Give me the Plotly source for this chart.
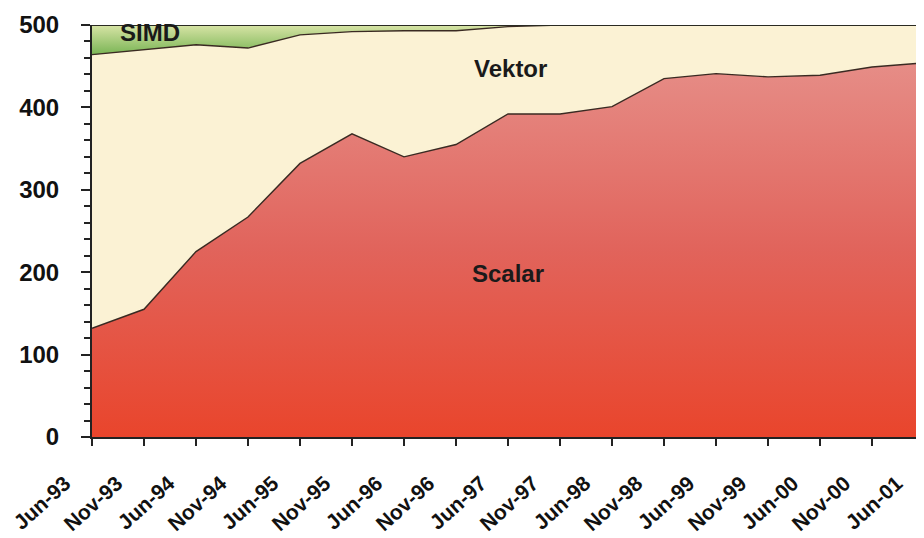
import plotly.graph_objects as go

categories = ["Jun-93", "Nov-93", "Jun-94", "Nov-94", "Jun-95", "Nov-95", "Jun-96", "Nov-96",
              "Jun-97", "Nov-97", "Jun-98", "Nov-98", "Jun-99", "Nov-99", "Jun-00", "Nov-00", "Jun-01"]
scalar = [132, 155, 225, 267, 332, 368, 340, 355, 392, 392, 401, 435, 441, 437, 439, 449, 454]
vektor = [332, 315, 251, 205, 156, 124, 153, 138, 106, 108, 99, 65, 59, 63, 61, 51, 46]
simd = [36, 30, 24, 28, 12, 8, 7, 7, 2, 0, 0, 0, 0, 0, 0, 0, 0]
y_ticks = [0, 100, 200, 300, 400, 500]

FONT = "Liberation Sans, Arial, sans-serif"
LINE = dict(color="#3a2a22", width=1.4)

fig = go.Figure()
fig.add_trace(go.Scatter(
    x=categories, y=scalar, name="Scalar", stackgroup="a", mode="lines", line=LINE,
    fillgradient=dict(type="vertical", start=0, stop=460,
                      colorscale=[[0, "#e9452c"], [0.5, "#e1645c"], [1, "#e68e88"]]),
))
fig.add_trace(go.Scatter(
    x=categories, y=vektor, name="Vektor", stackgroup="a", mode="lines", line=LINE,
    fillcolor="#fbf2d4",
))
fig.add_trace(go.Scatter(
    x=categories, y=simd, name="SIMD", stackgroup="a", mode="lines",
    line=dict(color="#2a2a22", width=1.8),
    fillgradient=dict(type="vertical", start=462, stop=500,
                      colorscale=[[0, "#74b250"], [1, "#d8e4a6"]]),
))

fig.add_annotation(x=1.12, y=491, text="SIMD", showarrow=False,
                   font=dict(family=FONT, size=24, color="#1a1a1a", weight="bold"))
fig.add_annotation(x=8.05, y=447, text="Vektor", showarrow=False,
                   font=dict(family=FONT, size=24, color="#1a1a1a", weight="bold"))
fig.add_annotation(x=8.0, y=198, text="Scalar", showarrow=False,
                   font=dict(family=FONT, size=24, color="#1a1a1a", weight="bold"))

# page body has an 8px margin, so the figure is sized/offset to land on the 924x538 view
fig.update_layout(
    width=916, height=530,
    margin=dict(l=84, r=0, t=17, b=101),
    paper_bgcolor="white", plot_bgcolor="white",
    showlegend=False,
    font=dict(family=FONT, color="#111111"),
)
fig.update_xaxes(
    type="category", range=[0, len(categories) - 1], automargin=False,
    showgrid=False, zeroline=False,
    showline=True, linecolor="#222222", linewidth=2,
    ticks="outside", ticklen=7, tickwidth=2, tickcolor="#222222",
    tickangle=-42, ticklabelshift=-27, ticklabelstandoff=17,
    tickfont=dict(family=FONT, size=21, color="#111111", weight="bold"),
)
fig.update_yaxes(
    range=[0, 500], tickvals=y_ticks, automargin=False,
    showgrid=False, zeroline=False,
    showline=True, linecolor="#222222", linewidth=2,
    ticks="outside", ticklen=9, tickwidth=2, tickcolor="#222222",
    minor=dict(dtick=20, ticks="outside", ticklen=6, tickwidth=2, tickcolor="#222222", showgrid=False),
    tickfont=dict(family=FONT, size=24, color="#111111", weight="bold"),
    ticklabelstandoff=17,
)

fig.write_html("out.html")
